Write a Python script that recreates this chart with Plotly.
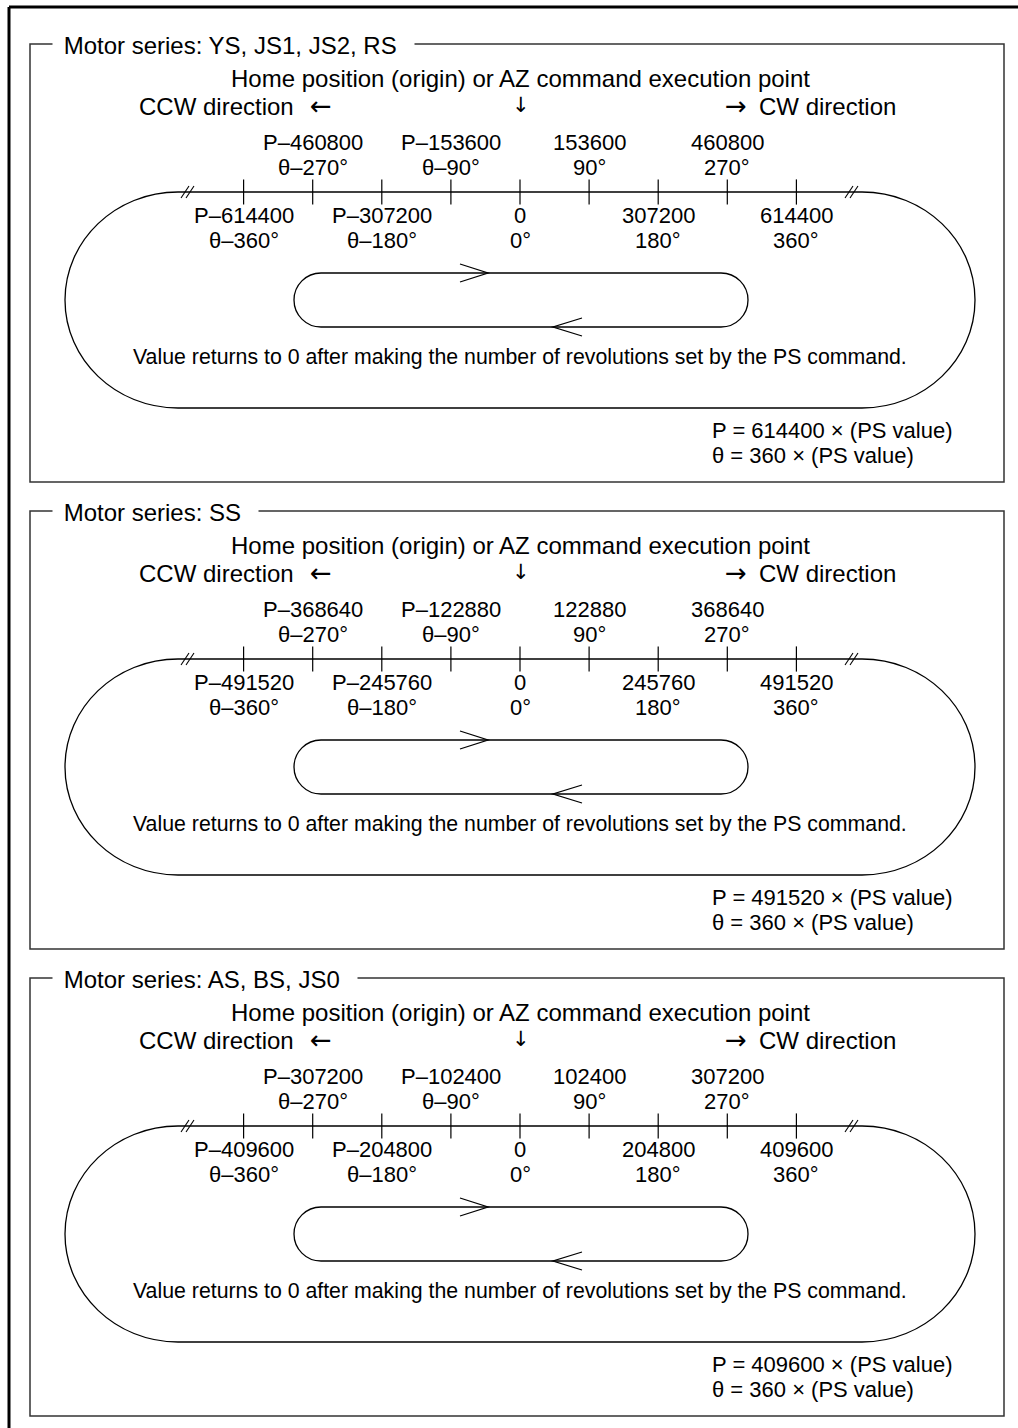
import plotly.graph_objects as go

# --- data ------------------------------------------------------------------
series_titles = [
    "Motor series: YS, JS1, JS2, RS",
    "Motor series: SS",
    "Motor series: AS, BS, JS0",
]
pulses_per_rev = [614400, 491520, 409600]

tick_degrees = [-360, -270, -180, -90, 0, 90, 180, 270, 360]
upper_degrees = [-270, -90, 90, 270]
lower_degrees = [-360, -180, 0, 180, 360]

upper_pulses = [
    [-460800, -153600, 153600, 460800],
    [-368640, -122880, 122880, 368640],
    [-307200, -102400, 102400, 307200],
]
lower_pulses = [
    [-614400, -307200, 0, 307200, 614400],
    [-491520, -245760, 0, 245760, 491520],
    [-409600, -204800, 0, 204800, 409600],
]

home_text = "Home position (origin) or AZ command execution point"
ccw_text = "CCW direction"
cw_text = "CW direction"
note_text = "Value returns to 0 after making the number of revolutions set by the PS command."

# --- page geometry (pixels) -------------------------------------------------
W, H = 1018, 1428
PANEL_STEP = 467
PX_PER_DEG = 69.1 / 90.0
CENTER_X = 520
FONT = "Liberation Sans, Arial, Helvetica, sans-serif"
ARROW_FONT = "DejaVu Sans, sans-serif"


def fmt_pulse(v):
    return "0" if v == 0 else ("P\u2013%d" % -v if v < 0 else "%d" % v)


def fmt_deg(d):
    return "0\u00b0" if d == 0 else ("\u03b8\u2013%d\u00b0" % -d if d < 0 else "%d\u00b0" % d)


fig = go.Figure()
shapes = []
annotations = []


def text(x, y, s, size=24, xanchor="center", xref="x", family=FONT, **kw):
    annotations.append(dict(
        x=x, y=y, xref=xref, yref="y", text=s, showarrow=False,
        xanchor=xanchor, yanchor="middle",
        font=dict(family=family, size=size, color="black"), **kw))


def line_path(d, width=1.3, color="black"):
    shapes.append(dict(type="path", path=d, xref="x", yref="y",
                       line=dict(color=color, width=width), layer="above"))


# outer frame (top + left only, as on the page)
line_path("M 9,7 L 1018,7", width=3)
line_path("M 9,7 L 9,1428", width=3)

for i, title in enumerate(series_titles):
    o = i * PANEL_STEP
    ax_y = 192 + o

    # panel box
    shapes.append(dict(type="rect", xref="x", yref="y", x0=30, x1=1004,
                       y0=44 + o, y1=482 + o,
                       line=dict(color="#333333", width=1.5), layer="above"))
    text(52, 45 + o, "\u00a0" + title + "\u00a0\u00a0", xanchor="left",
         bgcolor="white", borderpad=4)

    text(CENTER_X, 78 + o, home_text)
    text(296, 106 + o, ccw_text, xanchor="right")
    text(321, 106 + o, "\u2190", size=26, family=ARROW_FONT)
    text(521, 105 + o, "\u2193", size=21, family=ARROW_FONT)
    text(736, 106 + o, "\u2192", size=26, family=ARROW_FONT)
    text(757, 106 + o, cw_text, xanchor="left")

    # outer race-track loop, whose top edge is the position axis
    k = 0.5523
    rx, ry = 113, 108
    l, r, t, b, m = 178, 862, ax_y, ax_y + 2 * ry, ax_y + ry
    line_path(
        f"M {l},{t} L {r},{t} "
        f"C {r + k * rx},{t} {r + rx},{m - k * ry} {r + rx},{m} "
        f"C {r + rx},{m + k * ry} {r + k * rx},{b} {r},{b} "
        f"L {l},{b} "
        f"C {l - k * rx},{b} {l - rx},{m + k * ry} {l - rx},{m} "
        f"C {l - rx},{m - k * ry} {l - k * rx},{t} {l},{t} Z")

    # break marks //
    for x0 in (181, 186, 845, 850):
        line_path(f"M {x0},{ax_y + 6} L {x0 + 8},{ax_y - 6}", width=1.1)

    # inner loop
    ir = 27
    il, irr, it, ib, im = 321, 721, 273 + o, 327 + o, 300 + o
    kr = k * ir
    line_path(
        f"M {il},{it} L {irr},{it} "
        f"C {irr + kr},{it} {irr + ir},{im - kr} {irr + ir},{im} "
        f"C {irr + ir},{im + kr} {irr + kr},{ib} {irr},{ib} "
        f"L {il},{ib} "
        f"C {il - kr},{ib} {il - ir},{im + kr} {il - ir},{im} "
        f"C {il - ir},{im - kr} {il - kr},{it} {il},{it} Z")
    line_path(f"M 460,{it - 9} L 488,{it} L 460,{it + 9}")
    line_path(f"M 582,{ib - 9} L 553,{ib} L 582,{ib + 9}")

    # ticks on the degree axis
    fig.add_trace(go.Scatter(
        x=tick_degrees, y=[ax_y] * len(tick_degrees), xaxis="x2", yaxis="y",
        mode="markers", hoverinfo="skip", showlegend=False,
        marker=dict(symbol="line-ns", size=18, line=dict(color="black", width=1.2)),
    ))

    for d, p in zip(upper_degrees, upper_pulses[i]):
        text(d, 142.5 + o, fmt_pulse(p), size=22, xref="x2")
        text(d, 167.5 + o, fmt_deg(d), size=22, xref="x2")
    for d, p in zip(lower_degrees, lower_pulses[i]):
        text(d, 215 + o, fmt_pulse(p), size=22, xref="x2")
        text(d, 240 + o, fmt_deg(d), size=22, xref="x2")

    text(CENTER_X, 357 + o, note_text, size=21.3)

    text(710, 430.5 + o, "P = %d \u00d7 (PS value)" % pulses_per_rev[i], size=22, xanchor="left")
    text(710, 455.5 + o, "\u03b8 = 360 \u00d7 (PS value)", size=22, xanchor="left")

fig.update_layout(
    width=W, height=H,
    margin=dict(l=0, r=0, t=0, b=0),
    paper_bgcolor="white", plot_bgcolor="white",
    xaxis=dict(range=[0, W], visible=False, fixedrange=True),
    xaxis2=dict(range=[-CENTER_X / PX_PER_DEG, (W - CENTER_X) / PX_PER_DEG],
                overlaying="x", visible=False, fixedrange=True),
    yaxis=dict(range=[H, 0], visible=False, fixedrange=True),
    shapes=shapes,
    annotations=annotations,
    showlegend=False,
)

# page margin off so the figure sits at the window's top-left corner
fig.write_html("out.html", config={"displayModeBar": False},
               post_script="document.body.style.margin='0';")
